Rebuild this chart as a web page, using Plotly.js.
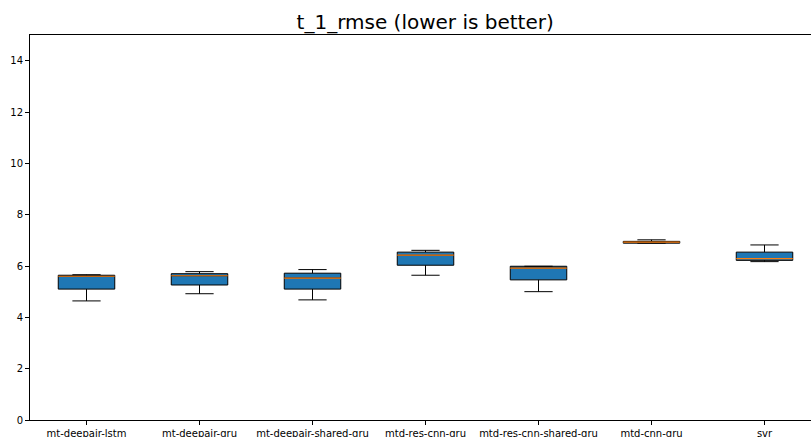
<!DOCTYPE html>
<html><head><meta charset="utf-8">
<script src="https://cdn.plot.ly/plotly-3.0.1.min.js"></script>
<style>body{margin:0;background:#fff}</style>
</head><body><div id="chart" style="width:811px;height:437px"></div>
<script>
const categories = ["mt-deepair-lstm","mt-deepair-gru","mt-deepair-shared-gru","mtd-res-cnn-gru","mtd-res-cnn-shared-gru","mtd-cnn-gru","svr"];
const lowerWhisker = [4.64, 4.92, 4.68, 5.64, 5.00, 6.89, 6.17];
const q1 = [5.10, 5.26, 5.10, 6.03, 5.46, 6.89, 6.22];
const median = [5.60, 5.62, 5.53, 6.42, 5.92, 6.93, 6.29];
const q3 = [5.64, 5.70, 5.72, 6.54, 5.99, 6.96, 6.54];
const upperWhisker = [5.66, 5.78, 5.86, 6.61, 5.99, 7.02, 6.82];

const pos = categories.map((c,i)=>i);
const boxW = 0.5;

const traces = [{
  type:'box', x:pos, q1:q1, median:median, q3:q3,
  lowerfence:lowerWhisker, upperfence:upperWhisker,
  width:boxW, whiskerwidth:0.5,
  fillcolor:'#1f77b4', line:{color:'#000000', width:1},
  boxpoints:false, hoverinfo:'skip', showlegend:false
}];
// orange median lines drawn over the boxes
const mx = [], my = [];
pos.forEach((p,i)=>{ mx.push(p-boxW/2, p+boxW/2, null); my.push(median[i], median[i], null); });
traces.push({type:'scatter', mode:'lines', x:mx, y:my, line:{color:'#ff7f0e', width:1.2}, showlegend:false, hoverinfo:'skip'});

const spacing = 113, plotW = 781;
const layout = {
  width:811, height:437,
  margin:{l:30, r:0, t:35, b:17},
  paper_bgcolor:'#ffffff', plot_bgcolor:'#ffffff',
  font:{family:'DejaVu Sans', size:10, color:'#000'},
  title:{text:'t_1_rmse (lower is better)', font:{family:'DejaVu Sans', size:20, color:'#000'},
         x:0.506, xref:'paper', xanchor:'center', y:0.95, yref:'container', yanchor:'middle'},
  xaxis:{range:[-0.5, -0.5 + plotW/spacing], tickvals:pos, ticktext:categories,
         showgrid:false, zeroline:false, showline:true, linecolor:'#000', linewidth:1, mirror:true,
         ticks:'outside', ticklen:4, tickcolor:'#000', tickfont:{size:10}},
  yaxis:{range:[0,15], tickvals:[0,2,4,6,8,10,12,14], showgrid:false, zeroline:false,
         showline:true, linecolor:'#000', linewidth:1, mirror:false,
         ticks:'outside', ticklen:4, tickcolor:'#000', tickfont:{size:10}}
};
Plotly.newPlot('chart', traces, layout, {displayModeBar:false, staticPlot:true});
</script></body></html>
